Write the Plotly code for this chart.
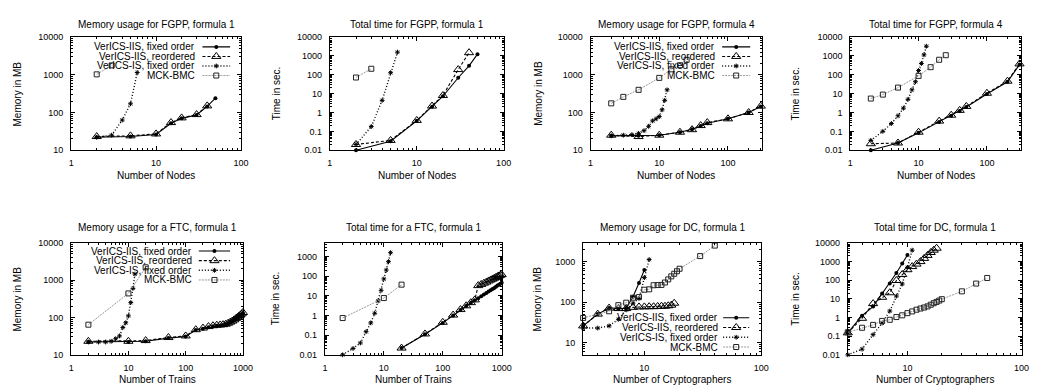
import plotly.graph_objects as go

W, H = 1037, 390
FONT = "Liberation Sans, Arial, sans-serif"

# ---------------- data ----------------
series_names = ["VerICS-IIS, fixed order", "VerICS-IIS, reordered", "VerICS-IS, fixed order", "MCK-BMC"]

# FGPP, formula 1
fgpp1_iis_fixed_x = [2, 5, 10, 15, 20, 30, 40, 50]
fgpp1_iis_fixed_mem = [22, 23, 26, 52, 70, 86, 145, 240]
fgpp1_iis_fixed_time = [0.01, 0.03, 0.36, 2.0, 7.3, 70, 300, 1250]
fgpp1_iis_reord_x = [2, 5, 10, 15, 20, 30, 40]
fgpp1_iis_reord_mem = [23, 24, 27, 54, 72, 88, 150]
fgpp1_iis_reord_time = [0.02, 0.033, 0.38, 2.2, 8.0, 190, 1500]
fgpp1_is_x = [2, 3, 4, 5, 6]
fgpp1_is_mem = [22, 25, 63, 170, 1150]
fgpp1_is_time = [0.02, 0.18, 4.4, 130, 1600]
fgpp1_mck_x = [2, 3]
fgpp1_mck_mem = [1030, 1780]
fgpp1_mck_time = [72, 210]

# FGPP, formula 4
fgpp4_iis_x = [2, 5, 10, 20, 30, 40, 50, 100, 200, 300]
fgpp4_iis_fixed_mem = [24, 24, 25, 30, 36, 44, 52, 68, 100, 145]
fgpp4_iis_reord_mem = [25, 23, 25, 30, 35, 45, 54, 68, 100, 148]
fgpp4_iis_fixed_time = [0.01, 0.024, 0.083, 0.31, 0.67, 1.2, 1.95, 9.6, 43, 350]
fgpp4_iis_reord_time = [0.022, 0.024, 0.09, 0.35, 0.72, 1.3, 2.1, 10.5, 46, 380]
fgpp4_is_x = [2, 3, 4, 5, 6, 7, 8, 9, 10, 11, 12, 13]
fgpp4_is_mem = [24, 25, 26, 28, 33, 43, 60, 68, 78, 118, 210, 400]
fgpp4_is_time = [0.033, 0.1, 0.26, 0.67, 1.7, 5, 16, 43, 170, 400, 1150, 3300]
fgpp4_mck_x = [2, 3, 5, 10, 15, 20, 25]
fgpp4_mck_mem = [175, 260, 400, 830, 1400, 1800, 2500]
fgpp4_mck_time = [5.5, 8.9, 21, 88, 255, 630, 1100]

# FTC, formula 1
ftc_iis_mem_x = [2, 10, 20, 50, 100, 150, 200, 250, 300, 350, 400, 450, 500,
                 550, 600, 650, 700, 750, 800, 850, 900, 950, 1000]
ftc_iis_fixed_mem = [22, 22, 23, 28, 31, 46, 50, 55, 58, 60, 61, 62, 64,
                     68, 73, 78, 84, 90, 97, 105, 113, 122, 132]
ftc_iis_reord_mem = [23, 23, 24, 29, 32, 47, 52, 57, 60, 62, 63, 64, 66,
                     70, 75, 80, 86, 93, 100, 108, 116, 125, 136]
ftc_iis_time_x = [20, 50, 100, 150, 200, 250, 300, 350, 400, 450, 500,
                  550, 600, 650, 700, 750, 800, 850, 900, 950, 1000]
ftc_iis_fixed_time = [0.022, 0.11, 0.42, 1.0, 1.9, 3.0, 4.3, 6.0, 7.5, 9.5, 11.5,
                      14, 16.5, 19, 22, 25, 29, 33, 37, 41, 46]
ftc_iis_reord_time = [0.022, 0.115, 0.45, 1.05, 2.0, 3.1, 4.5, 6.2, 33, 38, 44,
                      50, 57, 64, 71, 79, 87, 95, 103, 112, 120]
ftc_is_x = [2, 3, 4, 5, 6, 7, 8, 9, 10, 11, 12, 13]
ftc_is_mem = [22, 22, 22, 23, 27, 32, 54, 72, 110, 250, 600, 1450]
ftc_is_time = [0.01, 0.021, 0.04, 0.15, 0.42, 1.3, 5.5, 19, 72, 205, 550, 1570]
ftc_mck_x = [2, 10, 20]
ftc_mck_mem = [64, 440, 2200]
ftc_mck_time = [0.74, 7.7, 37]

# DC, formula 1
dc_iis_fixed_x = [3, 4, 5, 6, 7, 8, 9, 10]
dc_iis_fixed_mem = [26, 51, 72, 69, 72, 137, 300, 630]
dc_iis_fixed_time = [0.15, 1.25, 3.8, 19, 66, 240, 780, 2200]
dc_iis_reord_x = [3, 4, 5, 6, 7, 8, 9, 10, 11, 12, 13, 14, 15, 16, 17, 18]
dc_iis_reord_mem = [26, 51, 72, 70, 70, 75, 77, 77, 78, 78, 79, 80, 80, 82, 85, 95]
dc_iis_reord_time = [0.15, 0.9, 5.5, 12, 21, 95, 200, 360, 530, 720, 980, 1450, 2100, 3000, 4000, 5100]
dc_is_x = [3, 4, 5, 6, 7, 8, 9, 10, 11]
dc_is_mem = [23, 23, 26, 38, 65, 95, 125, 410, 1150]
dc_is_time = [0.01, 0.02, 0.12, 0.5, 2.2, 14, 62, 480, 4000]
dc_mck_mem_x = [3, 5, 6, 7, 8, 9, 10, 11, 12, 13, 14, 15, 16, 17, 18, 19, 20, 30, 40]
dc_mck_mem = [41, 60, 85, 98, 130, 135, 205, 210, 265, 268, 270, 310, 370, 440, 510, 590, 680, 1400, 2550]
dc_mck_time_x = [3, 4, 5, 6, 7, 8, 9, 10, 11, 12, 13, 14, 15, 16, 17, 18, 19, 20, 30, 40, 50]
dc_mck_time = [0.16, 0.28, 0.4, 0.65, 0.75, 1.05, 1.3, 1.7, 2.1, 2.6, 3.0, 3.4, 3.9, 4.8,
               5.8, 6.8, 8.0, 9.5, 25, 65, 130]

# tick labels
mem_ticks = [10, 100, 1000, 10000]
mem_ticks_dc = [10, 100, 1000]
time_ticks = [0.01, 0.1, 1, 10, 100, 1000, 10000]
time_ticks_ftc = [0.01, 0.1, 1, 10, 100, 1000]
x_ticks_100 = [1, 10, 100]
x_ticks_1000 = [1, 10, 100, 1000]
x_ticks_dc = [10, 100]

# ---------------- styles ----------------
STY = [
    dict(line=dict(color="black", width=1.1, dash="solid"),
         marker=dict(symbol="circle", size=4, color="black")),
    dict(line=dict(color="black", width=1.1, dash="3px,2px"),
         marker=dict(symbol="triangle-up-open", size=8, color="black", line=dict(width=1, color="black"))),
    dict(line=dict(color="black", width=1.4, dash="1px,2px"),
         marker=dict(symbol="asterisk-open", size=4, color="black", line=dict(width=1, color="black"))),
    dict(line=dict(color="#9a9a9a", width=1, dash="2px,1px"),
         marker=dict(symbol="square-open", size=5, color="#222222", line=dict(width=1, color="#222222"))),
]

TICK_FS = 9
TEXT_FS = 10


def tl(v):
    return ("%g" % v)


panels = [
    dict(px=(69, 241, 33, 149), xr=(0, 2), yr=(1, 4), xt=x_ticks_100, yt=mem_ticks,
         title="Memory usage for FGPP, formula 1", xtitle="Number of Nodes", ytitle="Memory in MB", yoff=54,
         series=[(fgpp1_iis_fixed_x, fgpp1_iis_fixed_mem), (fgpp1_iis_reord_x, fgpp1_iis_reord_mem),
                 (fgpp1_is_x, fgpp1_is_mem), (fgpp1_mck_x, fgpp1_mck_mem)],
         legend=dict(tr=196, s0=202, s1=230, y0=43, dy=9.8)),
    dict(px=(331, 507, 33, 149), xr=(0, 2), yr=(-2, 4), xt=x_ticks_100, yt=time_ticks,
         title="Total time for FGPP, formula 1", xtitle="Number of Nodes", ytitle="Time in sec.", yoff=54,
         series=[(fgpp1_iis_fixed_x, fgpp1_iis_fixed_time), (fgpp1_iis_reord_x, fgpp1_iis_reord_time),
                 (fgpp1_is_x, fgpp1_is_time), (fgpp1_mck_x, fgpp1_mck_time)], legend=None),
    dict(px=(595, 769, 33, 149), xr=(0, 2.5), yr=(1, 4), xt=x_ticks_100, yt=mem_ticks,
         title="Memory usage for FGPP, formula 4", xtitle="Number of Nodes", ytitle="Memory in MB", yoff=53,
         series=[(fgpp4_iis_x, fgpp4_iis_fixed_mem), (fgpp4_iis_x, fgpp4_iis_reord_mem),
                 (fgpp4_is_x, fgpp4_is_mem), (fgpp4_mck_x, fgpp4_mck_mem)],
         legend=dict(tr=722.7, s0=728.3, s1=756.7, y0=43, dy=9.8)),
    dict(px=(858, 1031, 33, 149), xr=(0, 2.5), yr=(-2, 4), xt=x_ticks_100, yt=time_ticks,
         title="Total time for FGPP, formula 4", xtitle="Number of Nodes", ytitle="Time in sec.", yoff=55,
         series=[(fgpp4_iis_x, fgpp4_iis_fixed_time), (fgpp4_iis_x, fgpp4_iis_reord_time),
                 (fgpp4_is_x, fgpp4_is_time), (fgpp4_mck_x, fgpp4_mck_time)], legend=None),
    dict(px=(69, 243, 244, 359), xr=(0, 3), yr=(1, 4), xt=x_ticks_1000, yt=mem_ticks,
         title="Memory usage for a FTC, formula 1", xtitle="Number of Trains", ytitle="Memory in MB", yoff=54,
         series=[(ftc_iis_mem_x, ftc_iis_fixed_mem), (ftc_iis_mem_x, ftc_iis_reord_mem),
                 (ftc_is_x, ftc_is_mem), (ftc_mck_x, ftc_mck_mem)],
         legend=dict(tr=193.3, s0=198.3, s1=230, y0=252.5, dy=9.9)),
    dict(px=(326, 505, 244, 359), xr=(0, 3), yr=(-2, 3.7), xt=x_ticks_1000, yt=time_ticks_ftc,
         title="Total time for a FTC, formula 1", xtitle="Number of Trains", ytitle="Time in sec.", yoff=50,
         series=[(ftc_iis_time_x, ftc_iis_fixed_time), (ftc_iis_time_x, ftc_iis_reord_time),
                 (ftc_is_x, ftc_is_time), (ftc_mck_x, ftc_mck_time)], legend=None),
    dict(px=(587.5, 768, 244, 359), xr=(0.4771, 2), yr=(0.699, 3.477), xt=x_ticks_dc, yt=mem_ticks_dc,
         title="Memory usage for DC, formula 1", xtitle="Number of Cryptographers", ytitle="Memory in MB", yoff=46,
         series=[(dc_iis_fixed_x, dc_iis_fixed_mem), (dc_iis_reord_x, dc_iis_reord_mem),
                 (dc_is_x, dc_is_mem), (dc_mck_mem_x, dc_mck_mem)],
         legend=dict(tr=726, s0=729.3, s1=755.7, y0=321, dy=10)),
    dict(px=(855.5, 1031.5, 244, 359), xr=(0.4771, 2), yr=(-2, 4), xt=x_ticks_dc, yt=time_ticks,
         title="Total time for DC, formula 1", xtitle="Number of Cryptographers", ytitle="Time in sec.", yoff=52.5,
         series=[(dc_iis_fixed_x, dc_iis_fixed_time), (dc_iis_reord_x, dc_iis_reord_time),
                 (dc_is_x, dc_is_time), (dc_mck_time_x, dc_mck_time)], legend=None),
]

fig = go.Figure()
annotations = []
layout = dict(width=W, height=H, margin=dict(l=0, r=0, t=0, b=0),
              paper_bgcolor="white", plot_bgcolor="white", showlegend=False,
              font=dict(family=FONT, size=TEXT_FS, color="black"))


def fx(p):
    return p / W


def fy(p):
    return 1 - p / H


for i, P in enumerate(panels):
    n = i + 1
    sfx = "" if n == 1 else str(n)
    l, r, t, b = P["px"]
    common = dict(type="log", showline=True, linecolor="black", linewidth=1, mirror="allticks",
                  ticks="inside", ticklen=4, tickwidth=1, tickcolor="black", showgrid=False,
                  zeroline=False, tickmode="array",
                  tickfont=dict(family=FONT, size=TICK_FS, color="black"),
                  minor=dict(ticks="inside", ticklen=2, tickwidth=1, tickcolor="black",
                             dtick="D1", showgrid=False))
    layout["xaxis" + sfx] = dict(common, domain=[fx(l), fx(r)], range=list(P["xr"]),
                                 anchor="y" + sfx, tickvals=P["xt"], ticktext=[tl(v) for v in P["xt"]],
                                 ticklabelstandoff=4)
    layout["yaxis" + sfx] = dict(common, domain=[fy(b), fy(t)], range=list(P["yr"]),
                                 anchor="x" + sfx, tickvals=P["yt"], ticktext=[tl(v) for v in P["yt"]],
                                 ticklabelstandoff=5)
    for k, (xs, ys) in enumerate(P["series"]):
        fig.add_trace(go.Scatter(x=xs, y=ys, mode="lines+markers", name=series_names[k],
                                 xaxis="x" + sfx, yaxis="y" + sfx, cliponaxis=False,
                                 line=STY[k]["line"], marker=STY[k]["marker"]))
    # titles
    cx = (l + r) / 2
    cy = (t + b) / 2
    row_title_y = 20 if t < 100 else 228
    row_xt_y = 175 if t < 100 else 384
    annotations.append(dict(text=P["title"], x=fx(cx), y=fy(row_title_y), xref="paper", yref="paper",
                            showarrow=False, xanchor="center", yanchor="middle", font=dict(size=TEXT_FS)))
    annotations.append(dict(text=P["xtitle"], x=fx(cx), y=fy(row_xt_y), xref="paper", yref="paper",
                            showarrow=False, xanchor="center", yanchor="middle", font=dict(size=TEXT_FS)))
    annotations.append(dict(text=P["ytitle"], x=fx(l - P["yoff"]), y=fy(cy), xref="paper", yref="paper",
                            showarrow=False, xanchor="center", yanchor="middle", textangle=-90,
                            font=dict(size=TEXT_FS)))
    # legend (gnuplot style: right-aligned text, then line sample)
    L = P["legend"]
    if L:
        x0d, x1d = P["xr"]
        y0d, y1d = P["yr"]

        def dx(px_):
            return 10 ** (x0d + (px_ - l) / (r - l) * (x1d - x0d))

        def dy(py_):
            return 10 ** (y0d + (b - py_) / (b - t) * (y1d - y0d))

        for k, name in enumerate(series_names):
            yy = L["y0"] + k * L["dy"]
            annotations.append(dict(text=name, x=fx(L["tr"]), y=fy(yy), xref="paper", yref="paper",
                                    showarrow=False, xanchor="right", yanchor="middle",
                                    font=dict(size=TEXT_FS)))
            fig.add_trace(go.Scatter(x=[dx(L["s0"]), dx(L["s1"])], y=[dy(yy), dy(yy)], mode="lines",
                                     xaxis="x" + sfx, yaxis="y" + sfx, line=STY[k]["line"],
                                     hoverinfo="skip"))
            fig.add_trace(go.Scatter(x=[dx((L["s0"] + L["s1"]) / 2)], y=[dy(yy)], mode="markers",
                                     xaxis="x" + sfx, yaxis="y" + sfx, marker=STY[k]["marker"],
                                     cliponaxis=False, hoverinfo="skip"))

layout["annotations"] = annotations
fig.update_layout(**layout)
fig.write_html("out.html", config={"displayModeBar": False},
               post_script="document.body.style.margin='0';document.body.style.overflow='hidden';")
